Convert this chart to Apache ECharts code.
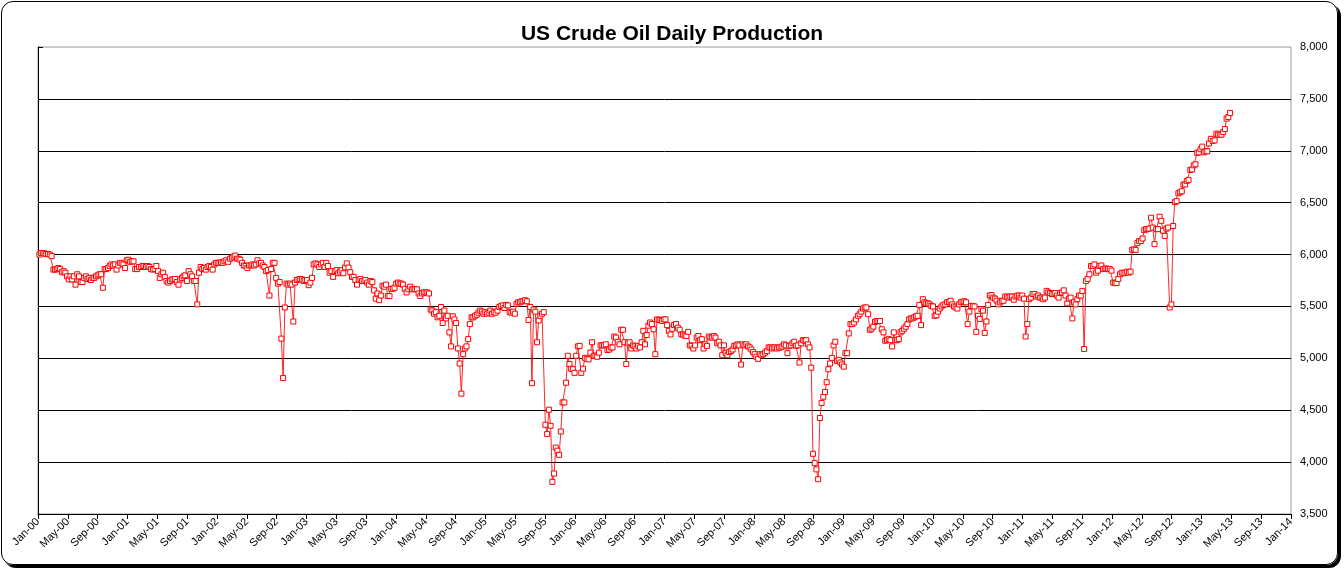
<!DOCTYPE html>
<html>
<head>
<meta charset="utf-8">
<title>US Crude Oil Daily Production</title>
<script src="https://cdn.jsdelivr.net/npm/echarts@6.0.0/dist/echarts.min.js"></script>
<style>
  html, body { margin: 0; padding: 0; background: #fff; }
  #frame {
    position: absolute; left: 1px; top: 1px; width: 1335px; height: 562px;
    border: 1px solid #000; border-radius: 12px; box-shadow: 3px 3px 0 #000;
  }
  #main { position: absolute; left: 0; top: 0; width: 1344px; height: 572px; }
</style>
</head>
<body>
<div id="frame"></div>
<div id="main"></div>
<script>
// weekly production, thousand barrels per day, first week ends 2000-01-07
var y2000 = [6000,6015,6015,6010,6005,6005,6000,5985,5855,5855,5860,5870,5860,5830,5840,5825,5790,5760,5790,5760,5790,5710,5810,5790,5735,5735,5775,5790,5765,5775,5755,5775,5775,5790,5800,5810,5810,5680,5860,5860,5870,5890,5905,5895,5905,5855,5895,5920,5915,5905,5870,5945];
var y2001 = [5950,5930,5935,5935,5860,5860,5880,5880,5890,5890,5880,5890,5880,5860,5855,5860,5890,5840,5775,5810,5825,5785,5745,5730,5745,5760,5760,5765,5735,5710,5760,5775,5790,5800,5745,5840,5810,5790,5745,5745,5520,5825,5880,5860,5870,5855,5880,5890,5880,5855,5905,5920];
var y2002 = [5920,5920,5925,5920,5935,5945,5930,5960,5970,5980,5990,5960,5960,5950,5920,5895,5890,5870,5895,5895,5905,5895,5905,5945,5915,5920,5895,5880,5840,5850,5605,5860,5920,5920,5775,5720,5735,5190,4810,5490,5720,5710,5720,5710,5355,5730,5755,5760,5765,5760,5745,5755];
var y2003 = [5755,5705,5730,5775,5905,5915,5905,5880,5905,5920,5880,5920,5890,5825,5840,5785,5840,5850,5820,5835,5850,5820,5875,5915,5875,5830,5785,5785,5755,5710,5755,5765,5745,5745,5755,5730,5710,5745,5735,5655,5575,5625,5560,5605,5700,5690,5710,5600,5600,5670,5670,5680];
var y2004 = [5720,5730,5720,5720,5710,5670,5635,5665,5690,5665,5670,5665,5665,5625,5600,5625,5635,5635,5635,5625,5470,5460,5430,5445,5395,5410,5495,5340,5460,5385,5410,5250,5115,5405,5375,5340,5095,4950,4660,5040,5095,5115,5185,5330,5395,5395,5410,5420,5440,5460,5450,5430,5445];
var y2005 = [5430,5440,5460,5430,5445,5440,5460,5495,5505,5510,5485,5515,5510,5445,5440,5450,5430,5525,5540,5540,5550,5550,5560,5550,5370,5495,4760,5470,5450,5155,5365,5410,5430,5445,4360,4270,4505,4350,3810,3890,4140,4110,4070,4295,4575,4575,4765,5025,4945,4900,4895,4860];
var y2006 = [5025,5115,5120,4860,4900,5005,4995,4990,5055,5155,5025,5025,5015,5055,5125,5125,5125,5135,5080,5085,5105,5105,5210,5200,5160,5135,5275,5275,5155,4945,5145,5155,5095,5125,5115,5095,5120,5105,5155,5265,5135,5225,5315,5345,5330,5280,5040,5375,5370,5370,5360,5375];
var y2007 = [5375,5320,5265,5230,5285,5320,5330,5295,5275,5230,5230,5220,5215,5255,5125,5120,5095,5125,5200,5215,5175,5185,5095,5135,5120,5210,5200,5200,5215,5200,5145,5160,5125,5030,5125,5050,5030,5060,5070,5085,5120,5125,5135,5125,4940,5135,5125,5135,5115,5105,5085,5060];
var y2008 = [5040,5015,4995,5040,5030,5040,5055,5070,5105,5105,5095,5105,5105,5095,5105,5105,5115,5135,5125,5050,5120,5125,5145,5160,5120,5125,4960,5145,5175,5170,5175,5135,5105,4910,4080,3990,3930,3835,4425,4570,4630,4675,4770,4895,4950,5005,5125,5160,4975,4985,4960,4940];
var y2009 = [4920,5050,5050,5240,5330,5330,5345,5375,5410,5425,5450,5480,5490,5490,5425,5275,5285,5305,5350,5360,5360,5360,5280,5250,5170,5175,5185,5175,5115,5250,5175,5175,5185,5250,5265,5285,5305,5330,5375,5385,5385,5395,5405,5410,5515,5320,5570,5540,5530,5530,5520,5505];
var y2010 = [5500,5410,5415,5450,5480,5500,5515,5520,5540,5545,5555,5520,5500,5490,5480,5520,5540,5545,5550,5540,5330,5450,5505,5505,5500,5255,5410,5380,5475,5460,5245,5355,5515,5605,5610,5585,5575,5555,5520,5540,5555,5555,5595,5595,5585,5595,5595,5565,5595,5605,5605,5585,5605];
var y2011 = [5575,5210,5330,5570,5585,5620,5620,5595,5605,5585,5585,5570,5585,5650,5635,5630,5620,5620,5630,5605,5585,5630,5635,5655,5605,5530,5575,5585,5385,5540,5520,5570,5605,5605,5650,5090,5745,5765,5810,5890,5890,5905,5825,5845,5890,5895,5860,5865,5865,5860,5860,5845];
var y2012 = [5730,5725,5725,5765,5810,5825,5820,5825,5835,5825,5835,6045,6050,6045,6110,6130,6130,6155,6235,6245,6245,6250,6355,6260,6100,6245,6245,6365,6325,6230,6180,6250,6260,5490,5520,6275,6505,6515,6590,6600,6610,6675,6675,6710,6720,6815,6820,6860,6870,6980,6985,7015];
var y2013 = [7040,6985,6995,6995,7070,7115,7095,7100,7165,7155,7155,7155,7180,7210,7310,7325,7365];

var monthNames = ['Jan','Feb','Mar','Apr','May','Jun','Jul','Aug','Sep','Oct','Nov','Dec'];
var firstWeek = Date.UTC(2000, 0, 7);

// position of a date in months since Jan 2000
function monthPos(t) {
    var d = new Date(t);
    var y = d.getUTCFullYear(), m = d.getUTCMonth();
    var dim = new Date(Date.UTC(y, m + 1, 0)).getUTCDate();
    return (y - 2000) * 12 + m + (d.getUTCDate() - 1) / dim;
}

var all = [].concat(y2000, y2001, y2002, y2003, y2004, y2005, y2006,
                    y2007, y2008, y2009, y2010, y2011, y2012, y2013);
var points = all.map(function (v, i) {
    return [monthPos(firstWeek + i * 7 * 86400000), v];
});

var font = "'Liberation Sans', Arial, sans-serif";
var chart = echarts.init(document.getElementById('main'));
chart.setOption({
    animation: false,
    title: {
        text: 'US Crude Oil Daily Production',
        left: 'center',
        top: 19,
        textStyle: { fontFamily: font, fontSize: 21, fontWeight: 'bold', color: '#000' }
    },
    grid: {
        left: 38, right: 53, top: 47, bottom: 58,
        show: true, borderColor: '#999', borderWidth: 1
    },
    xAxis: {
        type: 'value',
        min: 0, max: 168, interval: 4,
        axisLine: { onZero: false, lineStyle: { color: '#000', width: 1 } },
        axisTick: { length: 5, lineStyle: { color: '#000' } },
        splitLine: { show: false },
        axisLabel: {
            rotate: 45, margin: 6,
            fontFamily: font, fontSize: 11, color: '#000',
            formatter: function (v) {
                var yy = 2000 + Math.floor(v / 12);
                return monthNames[v % 12] + '-' + String(yy).slice(2);
            }
        }
    },
    yAxis: {
        type: 'value',
        position: 'right',
        min: 3500, max: 8000, interval: 500,
        axisLine: { show: true, lineStyle: { color: '#000', width: 1 } },
        axisTick: { show: true, length: 5, lineStyle: { color: '#000' } },
        splitLine: { show: true, showMaxLine: false, lineStyle: { color: '#000', width: 1 } },
        axisLabel: {
            margin: 9, fontFamily: font, fontSize: 11, color: '#000',
            formatter: function (v) { return v.toLocaleString('en-US'); }
        }
    },
    series: [{
        type: 'line',
        data: points,
        symbol: 'rect',
        symbolSize: 5,
        showAllSymbol: true,
        lineStyle: { color: '#ff0000', width: 1, opacity: 0.85 },
        itemStyle: { color: '#ffffff', borderColor: '#ff0000', borderWidth: 1 }
    }]
});
</script>
</body>
</html>
